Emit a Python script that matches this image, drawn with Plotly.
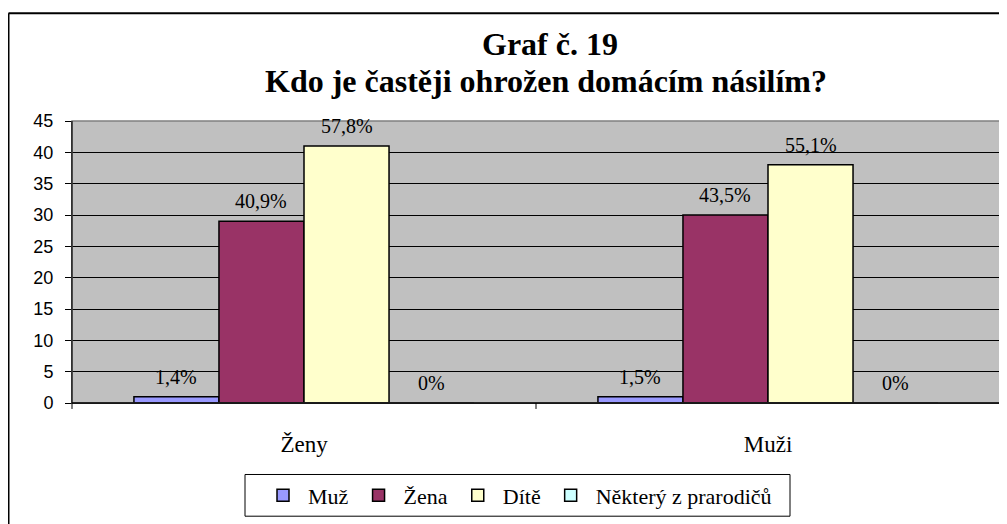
import plotly.graph_objects as go

categories = ["Ženy", "Muži"]
series_names = ["Muž", "Žena", "Dítě", "Některý z prarodičů"]
values = {
    "Muž": [1, 1],
    "Žena": [29, 30],
    "Dítě": [41, 38],
    "Některý z prarodičů": [0, 0],
}
labels = {
    "Muž": ["1,4%", "1,5%"],
    "Žena": ["40,9%", "43,5%"],
    "Dítě": ["57,8%", "55,1%"],
    "Některý z prarodičů": ["0%", "0%"],
}
colors = ["#9999FF", "#993366", "#FFFFCC", "#CCFFFF"]
y_ticks = [0, 5, 10, 15, 20, 25, 30, 35, 40, 45]
title_line1 = "Graf č. 19"
title_line2 = "Kdo je častěji ohrožen domácím násilím?"

# page has an 8px body margin: figure drawn at (8, 8)
OFF = 8
W, H = 1007 - OFF, 524 - OFF
PL, PR, PT, PB = 72, 1000, 121, 405  # plot area in page pixels
ML = PL - OFF
MT = PT - OFF
plot_w = PR - PL
plot_h = PB - PT
MR = W - ML - plot_w
MB = H - MT - plot_h
BARGAP = 0.267
cat_w = plot_w / len(categories)
bar_w = cat_w * (1 - BARGAP) / len(series_names)

serif = "Liberation Serif"
sans = "Liberation Sans"


def px(page_x):
    return (page_x - OFF - ML) / plot_w


def py(page_y):
    return (PB - page_y) / plot_h


fig = go.Figure()
for name, col in zip(series_names, colors):
    fig.add_trace(go.Bar(
        name=name, x=categories, y=values[name],
        marker=dict(color=col, line=dict(color="black", width=1.5)),
    ))

annotations = []
n = len(series_names)
for i, name in enumerate(series_names):
    for c, v, t in zip(categories, values[name], labels[name]):
        annotations.append(dict(
            x=c, y=v, xref="x", yref="y", text=t, showarrow=False,
            xshift=(i - (n - 1) / 2) * bar_w, yshift=20, yanchor="middle",
            font=dict(family=serif, size=20, color="black"),
        ))

annotations.append(dict(
    x=px(550), y=py(43), xref="paper", yref="paper", text="<b>" + title_line1 + "</b>",
    showarrow=False, xanchor="center", yanchor="middle",
    font=dict(family=serif, size=32, color="black"),
))
annotations.append(dict(
    x=px(546), y=py(81), xref="paper", yref="paper", text="<b>" + title_line2 + "</b>",
    showarrow=False, xanchor="center", yanchor="middle",
    font=dict(family=serif, size=32, color="black"),
))

shapes = [
    dict(type="rect", xref="paper", yref="paper", x0=0, x1=1, y0=0, y1=1,
         line=dict(color="#808080", width=1.5), layer="above"),
    dict(type="line", xref="paper", yref="paper", x0=0, x1=0, y0=0, y1=1,
         line=dict(color="black", width=1), layer="above"),
    dict(type="line", xref="paper", yref="paper", x0=0, x1=1, y0=0, y1=0,
         line=dict(color="black", width=1.5), layer="above"),
    *[dict(type="line", xref="paper", yref="paper", x0=f, x1=f,
           y0=0, y1=py(PB + 6),
           line=dict(color="black", width=1)) for f in (0, 0.5, 1)],
    # outer chart frame (top & left edges visible)
    dict(type="line", xref="paper", yref="paper",
         x0=px(8.5), x1=px(1007 + 5), y0=py(12.5), y1=py(12.5),
         line=dict(color="black", width=2)),
    dict(type="line", xref="paper", yref="paper",
         x0=px(8.5), x1=px(8.5), y0=py(12.5), y1=py(524 + 5),
         line=dict(color="black", width=2)),
    # legend frame
    dict(type="rect", xref="paper", yref="paper",
         x0=px(245), x1=px(790), y0=py(477), y1=py(519),
         line=dict(color="black", width=1), layer="above"),
]

fig.update_layout(
    width=W, height=H,
    margin=dict(l=ML, r=MR, t=MT, b=MB, pad=0),
    paper_bgcolor="white",
    plot_bgcolor="#C0C0C0",
    font=dict(family=serif, color="black"),
    barmode="group", bargap=BARGAP, bargroupgap=0,
    showlegend=True,
    legend=dict(
        orientation="h", x=px(517.5), xanchor="center", y=py(498), yanchor="middle",
        borderwidth=0, bgcolor="rgba(0,0,0,0)",
        font=dict(family=serif, size=22, color="black"),
        traceorder="normal", itemwidth=40,
    ),
    yaxis=dict(
        range=[0, 45], tickvals=y_ticks, ticks="outside", ticklen=6,
        tickcolor="black", showgrid=True, gridcolor="black", gridwidth=1,
        showline=True, linecolor="black", linewidth=1, zeroline=False,
        tickfont=dict(family=sans, size=18, color="black"),
        ticklabelstandoff=8,
    ),
    xaxis=dict(
        showline=True, linecolor="black", linewidth=1,
        ticks="", showgrid=False,
        tickfont=dict(family=serif, size=23, color="black"),
        ticklabelstandoff=20,
    ),
    annotations=annotations,
    shapes=shapes,
)

fig.write_html("out.html")
